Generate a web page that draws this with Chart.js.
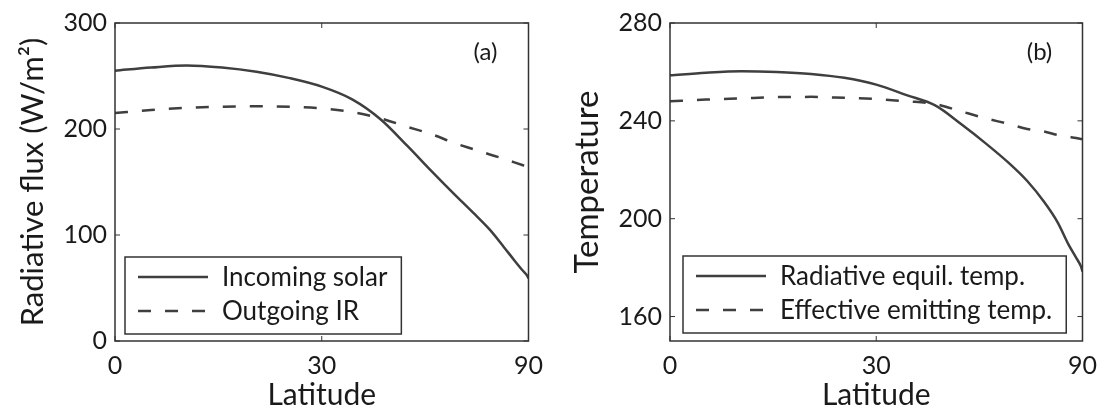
<!DOCTYPE html>
<html>
<head>
<meta charset="utf-8">
<script src="https://cdn.jsdelivr.net/npm/chart.js@4.4.0/dist/chart.umd.min.js"></script>
<style>
  html, body { margin: 0; padding: 0; background: #fff; }
  #wrap { position: relative; width: 1107px; height: 414px; }
  .panel { position: absolute; top: 0; height: 414px; }
</style>
</head>
<body>
<div id="wrap">
  <div class="panel" style="left:0;width:553px"><canvas id="fluxChart" width="553" height="414"></canvas></div>
  <div class="panel" style="left:553px;width:554px"><canvas id="tempChart" width="554" height="414"></canvas></div>
</div>
<script>
// latitude (deg); x axis is drawn in sin(latitude)
const latitudes = [0, 5, 10, 15, 20, 25, 30, 35, 40, 45, 50, 55, 60, 65, 70, 75, 80, 85, 90];
const xTickLabels = [0, 30, 90];

// panel (a) radiative flux, W/m2
const incomingSolar = [255, 258, 260, 258, 254, 248, 240, 228, 209, 184, 160, 139, 121, 105, 89, 76, 67, 62, 59];
const outgoingIR = [215, 218, 220, 221, 221.4, 221, 219.5, 216, 210, 202, 195, 187, 181, 176, 172, 168.5, 166, 164.5, 163];
const fluxTicks = [0, 100, 200, 300];

// panel (b) temperature, K
const radEquilTemp = [258.6, 259.7, 260.3, 260, 259.2, 257.6, 254.8, 250.5, 246.3, 238.5, 230.7, 223.1, 215.4, 207, 198.5, 189.5, 184, 180.5, 178.4];
const effEmitTemp = [248, 248.7, 249.2, 249.7, 249.8, 249.4, 248.9, 248, 246.9, 243.8, 241, 238.8, 236.7, 235.7, 234.2, 233.5, 233, 232.6, 232.5];
const tempTicks = [160, 200, 240, 280];

const FONT = 'Lato, "Open Sans", sans-serif';
const INK = '#1a1a1a';
const LINE = '#3f3f3f';
const DASH = [13, 14];

const toX = lat => Math.sin(lat * Math.PI / 180);
const points = vals => latitudes.map((lat, i) => ({ x: toX(lat), y: vals[i] }));

// box around the plot, inward tick marks, panel tag and boxed legend
const frameBox = {
  id: 'frameBox',
  afterDatasetsDraw(chart, args, opts) {
    const { ctx, chartArea: a, scales: { x, y } } = chart;
    ctx.save();
    ctx.strokeStyle = '#333';
    ctx.lineWidth = 1.5;
    ctx.strokeRect(a.left, a.top, a.right - a.left, a.bottom - a.top);

    const len = 5;
    ctx.lineWidth = 1;
    ctx.beginPath();
    x.ticks.forEach(t => {
      const px = x.getPixelForValue(t.value);
      ctx.moveTo(px, a.bottom); ctx.lineTo(px, a.bottom - len);
      ctx.moveTo(px, a.top); ctx.lineTo(px, a.top + len);
    });
    y.ticks.forEach(t => {
      const py = y.getPixelForValue(t.value);
      ctx.moveTo(a.left, py); ctx.lineTo(a.left + len, py);
      ctx.moveTo(a.right, py); ctx.lineTo(a.right - len, py);
    });
    ctx.stroke();

    // panel tag
    ctx.fillStyle = INK;
    ctx.font = `24px ${FONT}`;
    ctx.textAlign = 'center';
    ctx.textBaseline = 'middle';
    ctx.fillText(opts.tag, a.right - 43, a.top + 29);

    // legend
    ctx.font = `26px ${FONT}`;
    const sets = chart.data.datasets;
    const textW = Math.max(...sets.map(d => ctx.measureText(d.label).width));
    const bx = a.left + opts.legendLeft;
    const bh = 77;
    const by = a.bottom - opts.legendBottom - bh;
    const bw = 13 + 70 + 14 + textW + 14;
    ctx.fillStyle = '#fff';
    ctx.fillRect(bx, by, bw, bh);
    ctx.strokeStyle = '#333';
    ctx.lineWidth = 1.5;
    ctx.strokeRect(bx, by, bw, bh);
    sets.forEach((d, i) => {
      const ry = by + 20 + i * 34;
      ctx.strokeStyle = d.borderColor;
      ctx.lineWidth = d.borderWidth;
      ctx.setLineDash(d.borderDash || []);
      ctx.beginPath();
      ctx.moveTo(bx + 13, ry);
      ctx.lineTo(bx + 83, ry);
      ctx.stroke();
      ctx.setLineDash([]);
      ctx.fillStyle = INK;
      ctx.textAlign = 'left';
      ctx.textBaseline = 'middle';
      ctx.fillText(d.label, bx + 97, ry + 1);
    });
    ctx.restore();
  }
};

function lineSet(label, vals, dash) {
  return {
    label,
    data: points(vals),
    borderColor: LINE,
    borderWidth: 2.5,
    borderDash: dash,
    pointRadius: 0,
    cubicInterpolationMode: 'monotone',
    fill: false
  };
}

function makeOptions(cfg) {
  return {
    responsive: false,
    animation: false,
    layout: { padding: { top: 16, right: cfg.rightPad, left: 0, bottom: 0 } },
    plugins: {
      legend: { display: false },
      tooltip: { enabled: false },
      frameBox: { tag: cfg.tag, legendLeft: cfg.legendLeft, legendBottom: cfg.legendBottom }
    },
    scales: {
      x: {
        type: 'linear',
        min: 0,
        max: 1,
        afterBuildTicks: s => { s.ticks = xTickLabels.map(l => ({ value: toX(l) })); },
        afterFit: s => { s.height = 73; },
        ticks: {
          callback: (v, i) => xTickLabels[i],
          font: { family: FONT, size: 25 },
          color: INK,
          padding: 10,
          maxRotation: 0,
          autoSkip: false
        },
        grid: { display: false, drawTicks: false },
        border: { display: false },
        title: {
          display: true,
          text: 'Latitude',
          font: { family: FONT, size: 30 },
          color: INK,
          padding: { top: 0, bottom: 1 }
        }
      },
      y: {
        min: cfg.yMin,
        max: cfg.yMax,
        afterBuildTicks: s => { s.ticks = cfg.yTicks.map(v => ({ value: v })); },
        afterFit: s => { s.width = cfg.yWidth; },
        ticks: {
          font: { family: FONT, size: 25 },
          color: INK,
          padding: 8
        },
        grid: { display: false, drawTicks: false },
        border: { display: false },
        title: {
          display: true,
          text: cfg.yTitle,
          font: { family: FONT, size: cfg.titleSize },
          color: INK,
          padding: { top: cfg.titlePad, bottom: 0 }
        }
      }
    }
  };
}

new Chart(document.getElementById('fluxChart'), {
  type: 'line',
  data: {
    datasets: [
      lineSet('Incoming solar', incomingSolar, []),
      lineSet('Outgoing IR', outgoingIR, DASH)
    ]
  },
  options: makeOptions({
    tag: '(a)', yMin: 0, yMax: 300, yTicks: fluxTicks, yTitle: 'Radiative flux (W/m²)',
    yWidth: 115, rightPad: 17, titleSize: 31, titlePad: 14, legendLeft: 10, legendBottom: 7
  }),
  plugins: [frameBox]
});

new Chart(document.getElementById('tempChart'), {
  type: 'line',
  data: {
    datasets: [
      lineSet('Radiative equil. temp.', radEquilTemp, []),
      lineSet('Effective emitting temp.', effEmitTemp, DASH)
    ]
  },
  options: makeOptions({
    tag: '(b)', yMin: 150, yMax: 280, yTicks: tempTicks, yTitle: 'Temperature',
    yWidth: 117, rightPad: 15, titleSize: 33, titlePad: 15, legendLeft: 13, legendBottom: 8
  }),
  plugins: [frameBox]
});
</script>
</body>
</html>
